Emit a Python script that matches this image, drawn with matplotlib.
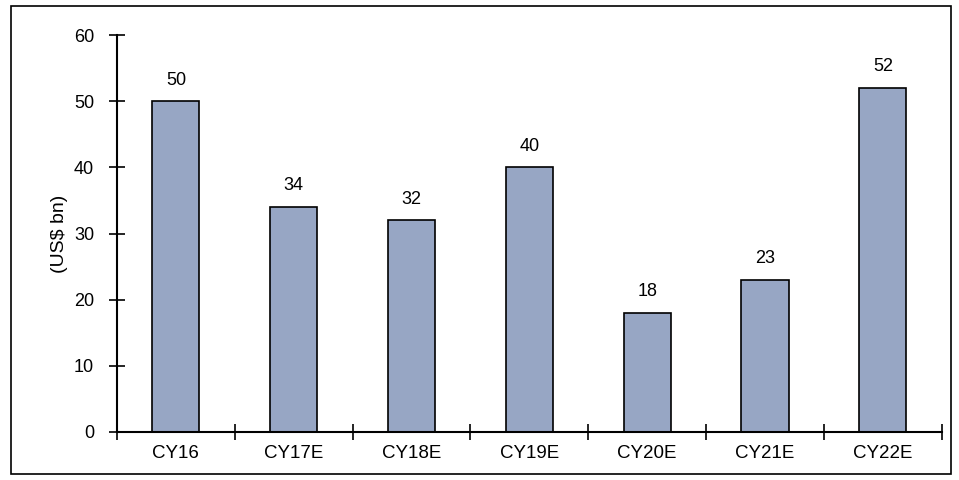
import matplotlib
matplotlib.use("Agg")
import matplotlib.pyplot as plt
from matplotlib.patches import Rectangle
import numpy as np

categories = ["CY16", "CY17E", "CY18E", "CY19E", "CY20E", "CY21E", "CY22E"]
values = [50, 34, 32, 40, 18, 23, 52]
y_ticks = [0, 10, 20, 30, 40, 50, 60]
y_label = "(US$ bn)"

plt.rcParams["font.family"] = ["Liberation Sans", "DejaVu Sans"]
plt.rcParams["font.size"] = 13

fig = plt.figure(figsize=(9.59, 4.8), dpi=100)
ax = fig.add_axes([0.122, 0.1, 0.860, 0.827])

x = np.arange(len(categories))
ax.bar(x, values, width=0.4, color="#97A6C4", edgecolor="black", linewidth=1.2, zorder=2)
for xi, v in zip(x, values):
    ax.text(xi, v + 1.9, f"{v}", ha="center", va="bottom", fontsize=13)

ax.set_xlim(-0.5, len(categories) - 0.5)
ax.set_ylim(0, 60)
ax.set_yticks(y_ticks)
ax.set_xticks(np.arange(len(categories) + 1) - 0.5)
ax.set_xticklabels([])
ax.set_xticks(x, minor=True)
ax.set_xticklabels(categories, minor=True, fontsize=13.5)
ax.tick_params(axis="x", which="minor", length=0, pad=9.5)
ax.tick_params(axis="x", which="major", direction="inout", length=12, width=1.2)
ax.tick_params(axis="y", direction="inout", length=12, width=1.2, pad=10.5)
ax.set_ylabel(y_label, fontsize=14, labelpad=4)

for s in ["top", "right"]:
    ax.spines[s].set_visible(False)
for s in ["left", "bottom"]:
    ax.spines[s].set_linewidth(1.5)

fig.patches.append(Rectangle((11 / 959, 6 / 480), 940 / 959, 468 / 480,
                             transform=fig.transFigure, fill=False,
                             edgecolor="black", linewidth=1.2))

fig.savefig("out.png", dpi=100)
